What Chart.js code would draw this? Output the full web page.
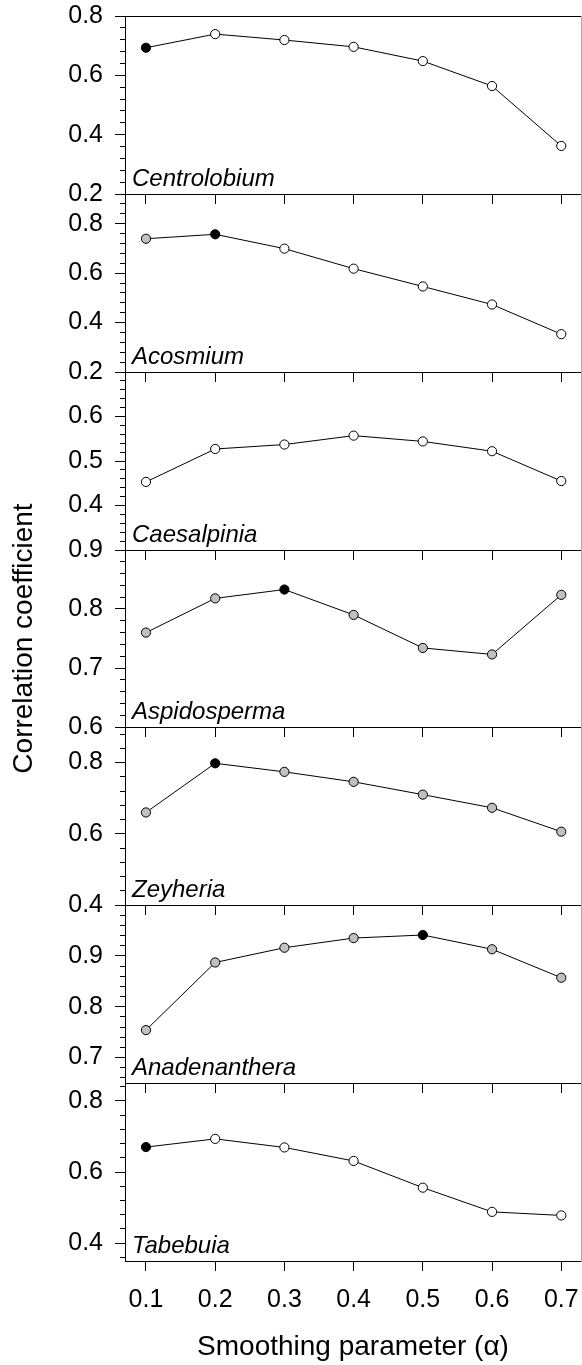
<!DOCTYPE html>
<html><head><meta charset="utf-8">
<script src="https://cdn.jsdelivr.net/npm/chart.js@4.4.1/dist/chart.umd.min.js"></script>
<style>
html,body{margin:0;padding:0;background:#fff;}
#wrap{position:relative;width:582px;height:1365px;overflow:hidden;background:#fff;}
#wrap canvas{position:absolute;left:0;}
</style></head><body><div id="wrap"></div>
<script>
// ---------------- data ----------------
const alphas = [0.1, 0.2, 0.3, 0.4, 0.5, 0.6, 0.7];
const xTickLabels = ['0.1', '0.2', '0.3', '0.4', '0.5', '0.6', '0.7'];
const xTitle = 'Smoothing parameter (\u03B1)';
const yTitle = 'Correlation coefficient';
const species = ['Centrolobium', 'Acosmium', 'Caesalpinia', 'Aspidosperma', 'Zeyheria', 'Anadenanthera', 'Tabebuia'];

const centrolobium  = [0.693, 0.739, 0.719, 0.696, 0.648, 0.564, 0.362];
const acosmium      = [0.739, 0.757, 0.699, 0.618, 0.546, 0.473, 0.353];
const caesalpinia   = [0.453, 0.527, 0.537, 0.557, 0.544, 0.522, 0.455];
const aspidosperma  = [0.760, 0.818, 0.833, 0.790, 0.734, 0.723, 0.824];
const zeyheria      = [0.660, 0.798, 0.774, 0.746, 0.710, 0.673, 0.606];
const anadenanthera = [0.754, 0.887, 0.916, 0.935, 0.941, 0.913, 0.857];
const tabebuia      = [0.670, 0.693, 0.669, 0.631, 0.556, 0.488, 0.478];

// marker classes: b = black (best), g = grey, w = white
const centrolobiumMarks  = ['b','w','w','w','w','w','w'];
const acosmiumMarks      = ['g','b','w','w','w','w','w'];
const caesalpiniaMarks   = ['w','w','w','w','w','w','w'];
const aspidospermaMarks  = ['g','g','b','g','g','g','g'];
const zeyheriaMarks      = ['g','b','g','g','g','g','g'];
const anadenantheraMarks = ['g','g','g','g','b','g','g'];
const tabebuiaMarks      = ['b','w','w','w','w','w','w'];

// y axis ranges and ticks per panel
const yMins = [0.2, 0.2, 0.3, 0.6, 0.4, 0.65, 0.35];
const yMaxs = [0.8, 0.92, 0.7, 0.9, 0.9, 1.0, 0.85];
const yMajorTicks = [
  [0.2, 0.4, 0.6, 0.8],
  [0.2, 0.4, 0.6, 0.8],
  [0.4, 0.5, 0.6],
  [0.6, 0.7, 0.8, 0.9],
  [0.4, 0.6, 0.8],
  [0.7, 0.8, 0.9, 1.0],
  [0.4, 0.6, 0.8]
];
const yTickLabels = [
  ['0.2', '0.4', '0.6', '0.8'],
  ['0.2', '0.4', '0.6', '0.8'],
  ['0.4', '0.5', '0.6'],
  ['0.6', '0.7', '0.8', '0.9'],
  ['0.4', '0.6', '0.8'],
  ['0.7', '0.8', '0.9', ''],
  ['0.4', '0.6', '0.8']
];
const yMinorSteps = [0.04, 0.04, 0.02, 0.02, 0.04, 0.02, 0.04];
const xMin = 0.0697, xMax = 0.7285;

// ---------------- layout / style ----------------
const seriesList = [centrolobium, acosmium, caesalpinia, aspidosperma, zeyheria, anadenanthera, tabebuia];
const marksList = [centrolobiumMarks, acosmiumMarks, caesalpiniaMarks, aspidospermaMarks, zeyheriaMarks, anadenantheraMarks, tabebuiaMarks];
const markColor = { b: '#000000', g: '#c0c0c0', w: '#ffffff' };
const panelTops    = [16, 194, 372, 550, 727, 905, 1083];
const panelBottoms = [194, 372, 550, 727, 905, 1083, 1261];
const FONT = '"Liberation Sans", Arial, Helvetica, sans-serif';
Chart.defaults.font.family = FONT;
Chart.defaults.color = '#000';

function minorTicks(min, max, step) {
  const out = [];
  for (let k = Math.ceil(min / step - 1e-9); k * step <= max + 1e-9; k++) out.push(Math.round(k * step * 1e4) / 1e4);
  return out;
}
function noPad(s) { s.paddingLeft = 0; s.paddingRight = 0; s.paddingTop = 0; s.paddingBottom = 0; }

const speciesPlugin = {
  id: 'speciesLabel',
  afterDatasetsDraw(chart, args, opts) {
    const { ctx, chartArea } = chart;
    ctx.save();
    ctx.font = 'italic 24px ' + FONT;
    ctx.fillStyle = '#000';
    ctx.textAlign = 'left';
    ctx.textBaseline = 'alphabetic';
    ctx.fillText(opts.text, chartArea.left + 7, chartArea.bottom - 8);
    ctx.restore();
  }
};

const wrap = document.getElementById('wrap');
for (let i = 0; i < 7; i++) {
  const last = i === 6;
  const padTop = i === 3 ? 60 : 40;
  const hx = last ? 104 : (i === 3 ? 60 : 40);
  const top = panelTops[i] - padTop;
  const height = padTop + (panelBottoms[i] - panelTops[i]) + hx;
  const cv = document.createElement('canvas');
  cv.width = 582; cv.height = height;
  cv.style.top = top + 'px';
  cv.style.width = '582px'; cv.style.height = height + 'px';
  wrap.appendChild(cv);

  const majors = yMajorTicks[i];
  const labels = yTickLabels[i];
  const minors = minorTicks(yMins[i], yMaxs[i], yMinorSteps[i]);

  new Chart(cv, {
    type: 'line',
    data: {
      datasets: [{
        data: alphas.map((a, k) => ({ x: a, y: seriesList[i][k] })),
        borderColor: '#000',
        borderWidth: 1,
        tension: 0,
        pointRadius: 4.6,
        pointBorderWidth: 1,
        pointBorderColor: '#000',
        pointBackgroundColor: marksList[i].map(m => markColor[m]),
        xAxisID: 'x', yAxisID: 'y',
        clip: false
      }]
    },
    plugins: [speciesPlugin],
    options: {
      responsive: false,
      animation: false,
      devicePixelRatio: 1,
      events: [],
      layout: { autoPadding: false, padding: { top: padTop, right: 1, bottom: 0, left: 0 } },
      plugins: {
        legend: { display: false },
        tooltip: { enabled: false },
        speciesLabel: { text: species[i] }
      },
      scales: {
        x: {
          type: 'linear', position: 'bottom', min: xMin, max: xMax,
          afterBuildTicks: s => { s.ticks = alphas.map(v => ({ value: v })); },
          afterFit: s => { s.height = hx; noPad(s); },
          grid: { drawOnChartArea: false, drawTicks: true, tickLength: 10, tickColor: '#000', lineWidth: 1 },
          border: { display: true, color: '#000', width: 1 },
          ticks: {
            display: last, autoSkip: false, maxRotation: 0, padding: 14,
            font: { size: 25 },
            callback: (v, idx) => xTickLabels[idx]
          },
          title: last ? { display: true, text: xTitle, font: { size: 28 }, padding: { top: 0, bottom: 1 } } : { display: false }
        },
        xTop: {
          type: 'linear', position: 'top', min: xMin, max: xMax,
          afterFit: s => { s.height = 0; noPad(s); },
          grid: { drawOnChartArea: false, drawTicks: false },
          border: { display: true, color: '#000', width: 1 },
          ticks: { display: false }
        },
        y: {
          type: 'linear', position: 'left', weight: 1, min: yMins[i], max: yMaxs[i],
          afterBuildTicks: s => { s.ticks = majors.map(v => ({ value: v })); },
          afterFit: s => { s.width = 125; noPad(s); },
          grid: { drawOnChartArea: false, drawTicks: true, tickLength: 10, tickColor: '#000', lineWidth: 1 },
          border: { display: true, color: '#000', width: 1 },
          ticks: {
            autoSkip: false, padding: 12, font: { size: 25 },
            callback: (v, idx) => labels[idx]
          },
          title: i === 3 ? { display: true, text: yTitle, font: { size: 28 }, padding: { top: 7, bottom: 0 } } : { display: false }
        },
        yMinor: {
          type: 'linear', position: 'left', weight: 0, min: yMins[i], max: yMaxs[i],
          afterBuildTicks: s => { s.ticks = minors.map(v => ({ value: v })); },
          afterFit: s => { s.width = 0; noPad(s); },
          grid: { drawOnChartArea: false, drawTicks: true, tickLength: 5, tickColor: '#000', lineWidth: 1 },
          border: { display: false },
          ticks: { display: false, autoSkip: false }
        },
        yRight: {
          type: 'linear', position: 'right', min: yMins[i], max: yMaxs[i],
          afterFit: s => { s.width = 0; noPad(s); },
          grid: { drawOnChartArea: false, drawTicks: false },
          border: { display: true, color: '#a8a8a8', width: 1 },
          ticks: { display: false }
        }
      }
    }
  });
}
</script></body></html>
